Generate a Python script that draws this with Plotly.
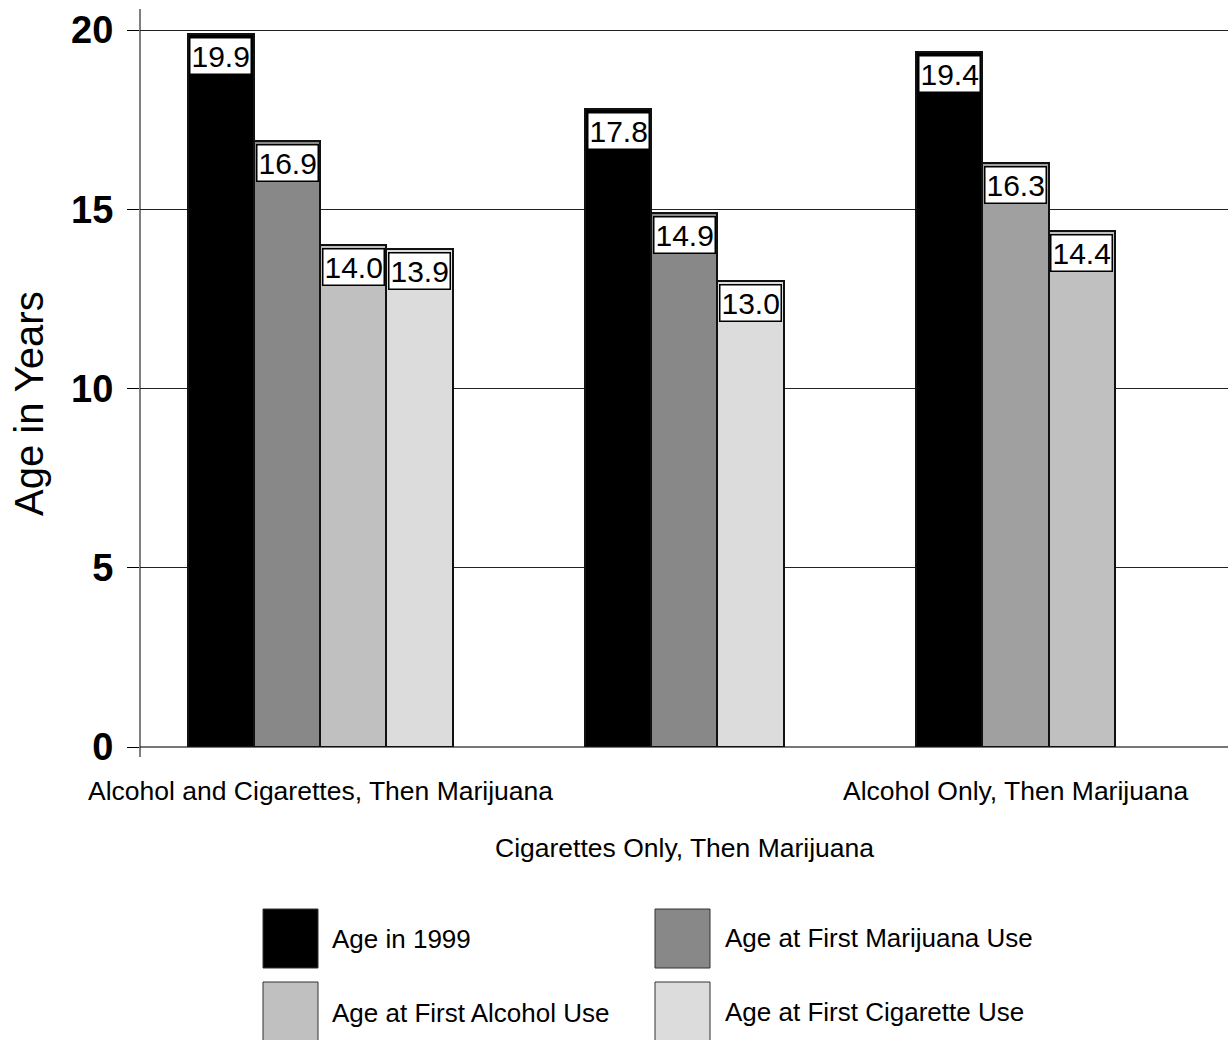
import plotly.graph_objects as go

# ---------------- data ----------------
categories = [
    "Alcohol and Cigarettes, Then Marijuana",
    "Cigarettes Only, Then Marijuana",
    "Alcohol Only, Then Marijuana",
]
series_names = [
    "Age in 1999",
    "Age at First Marijuana Use",
    "Age at First Alcohol Use",
    "Age at First Cigarette Use",
]
age_1999 = [19.9, 17.8, 19.4]
age_first_marijuana = [16.9, 14.9, 16.3]
age_first_alcohol = [14.0, None, 14.4]
age_first_cigarette = [13.9, 13.0, None]
y_ticks = [0, 5, 10, 15, 20]

series_values = [age_1999, age_first_marijuana, age_first_alcohol, age_first_cigarette]

# ---------------- styling ----------------
W, H = 1228, 1040
ML, MR, MT, MB = 140, 0, 29, 293
PW, PH = W - ML - MR, H - MT - MB
series_colors = ["#000000", "#888888", "#c0c0c0", "#dcdcdc"]
marijuana_alt_color = "#a0a0a0"   # lighter shade used in third group
GAP_SLOTS = 2
FONT = "Liberation Sans, Arial, sans-serif"


def px_x(p):
    return (p - ML) / PW


def px_y(p):
    return (H - MB - p) / PH


# compute slot positions: present bars are contiguous within a group,
# with a gap of GAP_SLOTS between groups
positions = [[None] * len(categories) for _ in series_values]
group_centers = []
slot = 0
for g in range(len(categories)):
    used = []
    for s, vals in enumerate(series_values):
        if vals[g] is not None:
            positions[s][g] = slot
            used.append(slot)
            slot += 1
    group_centers.append(sum(used) / len(used))
    slot += GAP_SLOTS

fig = go.Figure()
for s, vals in enumerate(series_values):
    xs = [positions[s][g] for g in range(len(categories)) if vals[g] is not None]
    ys = [vals[g] for g in range(len(categories)) if vals[g] is not None]
    gs = [g for g in range(len(categories)) if vals[g] is not None]
    colors = [series_colors[s]] * len(xs)
    if s == 1:
        colors = [marijuana_alt_color if g == 2 else series_colors[s] for g in gs]
    fig.add_trace(go.Bar(
        x=xs, y=ys, width=[1] * len(xs), name=series_names[s],
        marker=dict(color=colors, line=dict(color="#111111", width=2)),
        showlegend=False,
    ))
    for x, y in zip(xs, ys):
        fig.add_annotation(
            x=x, y=y, xref="x", yref="y", text=f"{y:.1f}",
            showarrow=False, yanchor="top", xanchor="center", yshift=-3,
            font=dict(family=FONT, size=30, color="black"),
            bgcolor="white", bordercolor="black", borderwidth=1.5, borderpad=1,
        )

# category labels (staggered)
row_shift = [-44, -101, -44]
for g, name in enumerate(categories):
    fig.add_annotation(
        x=group_centers[g], y=0, xref="x", yref="paper", text=name,
        showarrow=False, xanchor="center", yanchor="middle", yshift=row_shift[g],
        font=dict(family=FONT, size=26.5, color="black"),
    )

# y title
fig.add_annotation(
    x=px_x(29), y=px_y(404), xref="paper", yref="paper", text="Age in Years",
    textangle=-90, showarrow=False, xanchor="center", yanchor="middle",
    font=dict(family=FONT, size=40, color="black"),
)

# y axis line extending slightly beyond the plot
fig.add_shape(type="line", xref="paper", yref="paper",
              x0=0, x1=0, y0=px_y(757), y1=px_y(9),
              line=dict(color="black", width=1))

# custom legend (2 x 2 grid of large swatches)
legend_cells = [
    (263, 909, 330, 939),
    (655, 909, 723, 938),
    (263, 982, 330, 1013),
    (655, 982, 723, 1012),
]
for s, (bx, by, tx, ty) in enumerate(legend_cells):
    fig.add_shape(type="rect", xref="paper", yref="paper",
                  x0=px_x(bx), x1=px_x(bx + 55), y0=px_y(by + 59), y1=px_y(by),
                  fillcolor=series_colors[s], line=dict(color="#333333", width=1))
    fig.add_annotation(
        x=px_x(tx), y=px_y(ty), xref="paper", yref="paper", text=series_names[s],
        showarrow=False, xanchor="left", yanchor="middle",
        font=dict(family=FONT, size=26, color="black"),
    )

fig.update_layout(
    width=W, height=H,
    margin=dict(l=ML, r=MR, t=MT, b=MB, pad=0),
    paper_bgcolor="white", plot_bgcolor="white",
    barmode="overlay", bargap=0,
    showlegend=False,
    xaxis=dict(range=[-1.22, 15.21], showgrid=False, zeroline=False,
               showticklabels=False, ticks="", showline=False, fixedrange=True),
    yaxis=dict(range=[0, 20.03], tickvals=y_ticks, ticks="outside", ticklen=12,
               tickcolor="black", tickwidth=1,
               showgrid=True, gridcolor="#222222", gridwidth=1,
               zeroline=True, zerolinecolor="#777777", zerolinewidth=2,
               showline=False, ticklabelstandoff=6,
               tickfont=dict(family=FONT, size=38, color="black", weight="bold")),
)

fig.write_html("out.html")
